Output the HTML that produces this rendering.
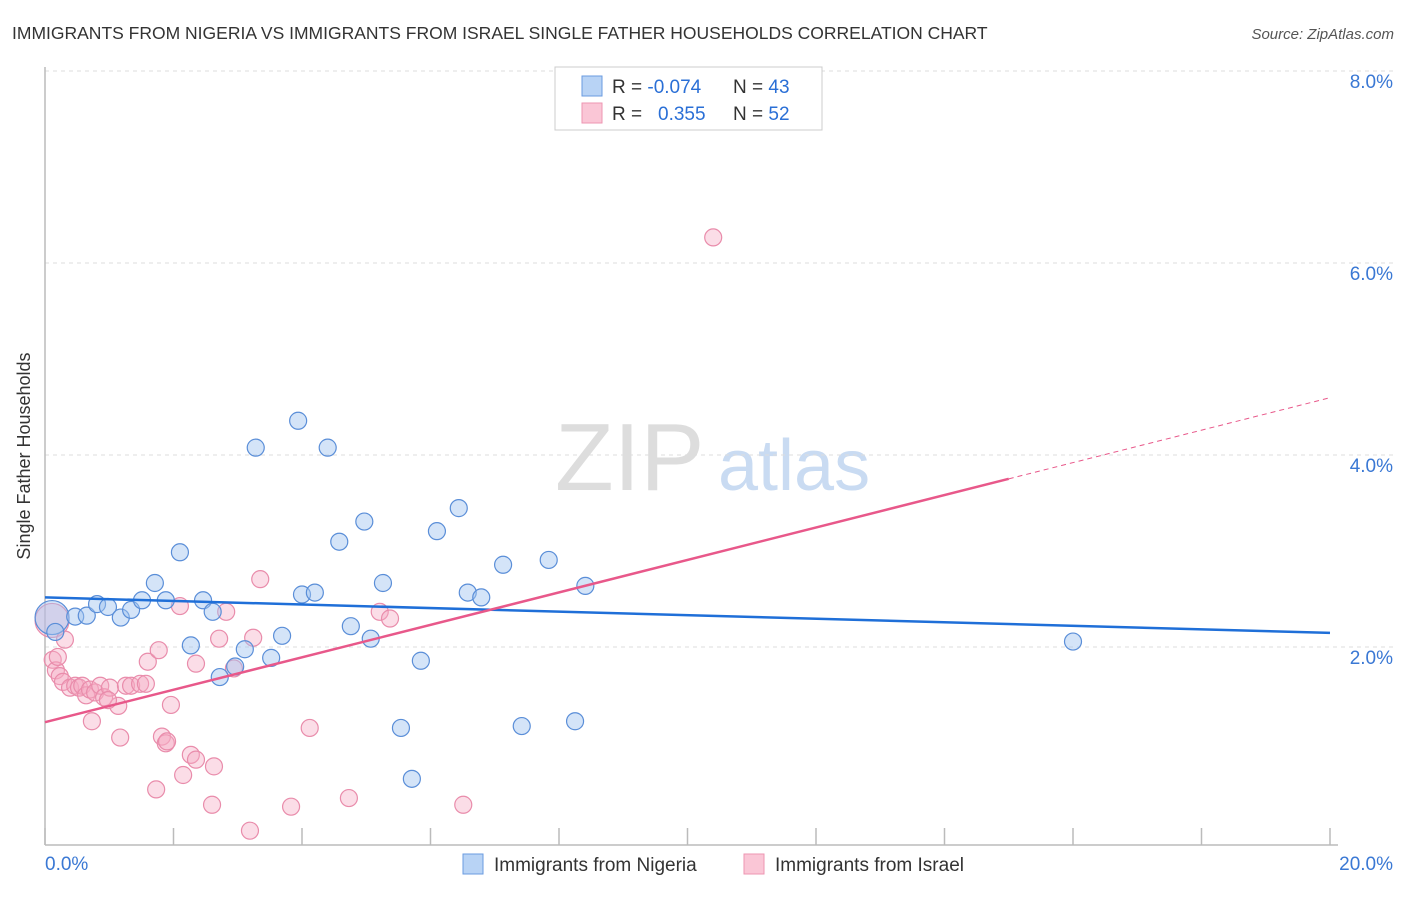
<!DOCTYPE html>
<html><head><meta charset="utf-8"><style>
body{margin:0;background:#fff;font-family:"Liberation Sans",sans-serif;}
svg text{font-family:"Liberation Sans",sans-serif;}
</style></head><body>
<svg id="c" width="1406" height="892">
<text x="12" y="39" font-size="17.5" fill="#333">IMMIGRANTS FROM NIGERIA VS IMMIGRANTS FROM ISRAEL SINGLE FATHER HOUSEHOLDS CORRELATION CHART</text>
<text x="1394" y="39" font-size="15" fill="#555" font-style="italic" text-anchor="end">Source: ZipAtlas.com</text>
<text x="30" y="456" font-size="18" fill="#333" text-anchor="middle" transform="rotate(-90 30 456)">Single Father Households</text>
<text x="555" y="490" font-size="96" fill="#ddd" font-family="Liberation Serif">ZIP</text>
<text x="718" y="490" font-size="72" fill="#c9dbf2">atlas</text>
<g id="grid"></g><g id="axes"></g><g id="pts"></g><g id="trend"></g>
<g>
<rect x="555" y="67" width="267" height="63" fill="#fff" stroke="#ccc"/>
<rect x="582" y="76" width="20" height="20" fill="#b8d3f5" stroke="#6a9be0"/>
<rect x="582" y="103" width="20" height="20" fill="#fac6d6" stroke="#ee95b2"/>
<text x="612" y="93" font-size="19" fill="#333">R = <tspan fill="#2a6fd6">-0.074</tspan></text>
<text x="733" y="93" font-size="19" fill="#333">N = <tspan fill="#2a6fd6">43</tspan></text>
<text x="612" y="120" font-size="19" fill="#333">R = <tspan x="658" fill="#2a6fd6">0.355</tspan></text>
<text x="733" y="120" font-size="19" fill="#333">N = <tspan fill="#2a6fd6">52</tspan></text>
</g>
<g>
<rect x="463" y="854" width="20" height="20" fill="#b8d3f5" stroke="#6a9be0"/>
<text x="494" y="871" font-size="19" fill="#333">Immigrants from Nigeria</text>
<rect x="744" y="854" width="20" height="20" fill="#fac6d6" stroke="#ee95b2"/>
<text x="775" y="871" font-size="19" fill="#333">Immigrants from Israel</text>
</g>
</svg>
<script>
const yTicks=[2,4,6,8];
const xTickVals=[0,2,4,6,8,10,12,14,16,18,20];
const xLabels=["0.0%","20.0%"];
const nigeriaX=[0.11,0.16,0.47,0.65,0.81,0.98,1.18,1.34,1.51,1.71,1.88,2.10,2.27,2.46,2.61,2.72,2.96,3.11,3.28,3.52,3.69,3.94,4.00,4.20,4.40,4.58,4.76,4.97,5.07,5.26,5.54,5.71,5.85,6.10,6.44,6.58,6.79,7.13,7.42,7.84,8.25,8.41,16.0];
const nigeriaY=[2.39,2.24,2.40,2.41,2.53,2.50,2.39,2.47,2.57,2.75,2.57,3.07,2.10,2.57,2.45,1.77,1.88,2.06,4.16,1.97,2.20,4.44,2.63,2.65,4.16,3.18,2.30,3.39,2.17,2.75,1.24,0.71,1.94,3.29,3.53,2.65,2.60,2.94,1.26,2.99,1.31,2.72,2.14];
const israelX=[0.11,0.12,0.17,0.23,0.28,0.39,0.47,0.53,0.58,0.64,0.70,0.78,0.86,0.92,1.01,1.14,0.98,1.26,0.73,1.17,1.34,1.48,1.57,1.60,1.77,1.82,1.88,1.90,1.96,1.73,2.15,2.27,2.35,2.35,2.10,2.63,2.60,2.71,2.82,2.94,3.19,3.24,3.35,3.83,4.12,4.73,5.21,5.37,6.51,10.40,0.31,0.20];
const israelY=[2.36,1.95,1.84,1.78,1.72,1.66,1.68,1.66,1.68,1.58,1.64,1.61,1.68,1.56,1.66,1.47,1.53,1.68,1.31,1.14,1.68,1.70,1.70,1.93,2.05,1.15,1.08,1.10,1.48,0.60,0.75,0.96,0.91,1.91,2.51,0.84,0.44,2.17,2.45,1.86,0.17,2.18,2.79,0.42,1.24,0.51,2.45,2.38,0.44,6.35,2.16,1.98];
const nigeriaTrend=[2.60,2.23];
const israelTrend=[1.30,0.169];
const israelSolidEnd=15.0;
const X=v=>45+v/20*1285, Y=v=>847-v*96;
const NS="http://www.w3.org/2000/svg";
function mk(t,a,p){const e=document.createElementNS(NS,t);for(const k in a)e.setAttribute(k,a[k]);document.getElementById(p).appendChild(e);return e;}
yTicks.forEach(t=>{
 const l=mk('line',{x1:45,x2:1394,y1:Y(t)-8,y2:Y(t)-8,stroke:'#ddd','stroke-dasharray':'4,4'},'grid');
 
 
 const tx=mk('text',{x:1393,y:Y(t)+9,'font-size':19,fill:'#3a78d4','text-anchor':'end'},'grid');
 tx.textContent=t.toFixed(1)+'%';
 
 
});
mk('line',{x1:45,x2:45,y1:67,y2:845,stroke:'#bbb','stroke-width':1.5},'axes');
mk('line',{x1:45,x2:1338,y1:845,y2:845,stroke:'#bbb','stroke-width':1.5},'axes');
xTickVals.forEach(t=>{
 const l=mk('line',{x1:X(t),x2:X(t),y1:828,y2:845,stroke:'#bbb','stroke-width':1.5},'axes');
 
 
});
[[0,'start',45],[1,'end',1393]].forEach(([i,a,x])=>{
 const tx=mk('text',{x:x,y:870,'font-size':19,fill:'#3a78d4','text-anchor':a},'axes');
 tx.textContent=xLabels[i];
 
 
});
function pts(xs,ys,fill,stroke,name){
 xs.forEach((x,i)=>{
  const c=mk('circle',{cx:X(x),cy:Y(ys[i]),r:i===0?17:8.5,fill:fill,stroke:stroke,'stroke-width':1.2},'pts');
  
  
 });
}
pts(israelX,israelY,'rgba(246,170,196,0.4)','#e98cab','israel-point');
pts(nigeriaX,nigeriaY,'rgba(160,196,240,0.45)','#5a8ed8','nigeria-point');
const bl=mk('line',{x1:X(0),y1:Y(nigeriaTrend[0]),x2:X(20),y2:Y(nigeriaTrend[1]),stroke:'#1f6fd8','stroke-width':2.5},'trend');


const f=v=>israelTrend[0]+israelTrend[1]*v;
const pl=mk('line',{x1:X(0),y1:Y(f(0)),x2:X(israelSolidEnd),y2:Y(f(israelSolidEnd)),stroke:'#e8588a','stroke-width':2.5},'trend');


const pd=mk('line',{x1:X(israelSolidEnd),y1:Y(f(israelSolidEnd)),x2:X(20),y2:Y(f(20)),stroke:'#e8588a','stroke-width':1,'stroke-dasharray':'5,4'},'trend');


</script>
</body></html>
